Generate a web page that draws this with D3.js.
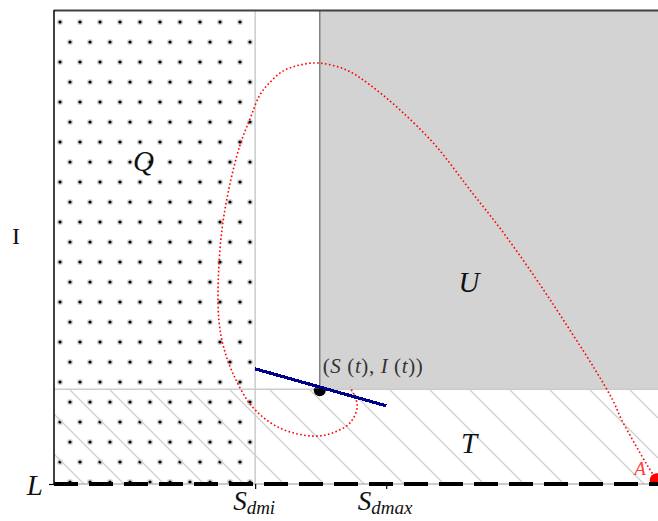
<!DOCTYPE html>
<html>
<head>
<meta charset="utf-8">
<script src="https://cdn.jsdelivr.net/npm/d3@7"></script>
<style>
  html, body { margin: 0; padding: 0; background: #fff; overflow: hidden; }
  svg { display: block; }
  .math { font-family: "Liberation Serif", "DejaVu Serif", serif; font-style: italic; }
</style>
</head>
<body>
<svg id="chart" width="658" height="521"></svg>
<script>
// Region boundaries (S on the horizontal axis, I on the vertical axis)
const sDmi = 0.333;
const sDmax = 0.55;
const iLower = 0.2;          // boundary between T (below) and Q/U (above)
const sRegionU = 0.44;       // left edge of region U

// Tick labels on the S axis
const xTickValues = [sDmi, sDmax];
const xTickSubs = ["dmi", "dmax"];
const yTickValues = [0];
const yTickLabels = ["L"];

// Current state (S(t), I(t)) and tangent direction through it
const pointS = [0.44];
const pointI = [0.2];
const tangentS = [0.333, 0.55];
const tangentI = [0.243, 0.165];

// Starting point A
const startS = [0.998];
const startI = [0.008];

// Trajectory from A spiralling around to the current state
const trajS = [0.998, 0.983, 0.962, 0.940, 0.925, 0.896, 0.854, 0.805, 0.747, 0.689,
               0.631, 0.573, 0.523, 0.485, 0.440, 0.407, 0.379, 0.358, 0.341, 0.325,
               0.308, 0.291, 0.278, 0.272, 0.273, 0.280, 0.296, 0.329, 0.374, 0.429,
               0.462, 0.490, 0.502, 0.497, 0.490];
const trajI = [0.008, 0.038, 0.084, 0.135, 0.177, 0.241, 0.325, 0.420, 0.525, 0.620,
               0.715, 0.789, 0.842, 0.873, 0.888, 0.884, 0.871, 0.848, 0.821, 0.772,
               0.715, 0.631, 0.536, 0.430, 0.346, 0.293, 0.234, 0.162, 0.118, 0.101,
               0.108, 0.129, 0.162, 0.188, 0.205];

const svg = d3.select("#chart");
const mLeft = 54, mTop = 10, mBottom = 484, mRight = 658;

const x = d3.scaleLinear().domain([0, 1]).range([mLeft, mRight]);
const y = d3.scaleLinear().domain([0, 1]).range([mBottom, mTop]);

const defs = svg.append("defs");
defs.append("clipPath").attr("id", "plotClip")
  .append("rect").attr("x", mLeft).attr("y", mTop)
  .attr("width", mRight - mLeft + 20).attr("height", mBottom - mTop);

// Dot pattern for region Q
const dots = defs.append("pattern").attr("id", "dots")
  .attr("patternUnits", "userSpaceOnUse")
  .attr("x", 55).attr("y", 12).attr("width", 20).attr("height", 40);
[[5, 10], [15, 30]].forEach(([cx, cy]) => {
  dots.append("circle").attr("cx", cx).attr("cy", cy).attr("r", 3.1).attr("fill", "#d6d6d6");
  dots.append("circle").attr("cx", cx).attr("cy", cy).attr("r", 1.6).attr("fill", "#000");
});

// Diagonal hatch for region T
const hatch = defs.append("pattern").attr("id", "hatch")
  .attr("patternUnits", "userSpaceOnUse")
  .attr("x", 0).attr("y", 0).attr("width", 40).attr("height", 40);
hatch.append("path")
  .attr("d", "M-10,-10L50,50M-10,30L10,50M30,-10L50,10")
  .attr("stroke", "#cfcfcf").attr("stroke-width", 1.3).attr("fill", "none");

const plot = svg.append("g").attr("clip-path", "url(#plotClip)");

// Region Q (dots)
plot.append("rect")
  .attr("x", x(0)).attr("y", y(1))
  .attr("width", x(sDmi) - x(0)).attr("height", y(0) - y(1))
  .attr("fill", "url(#dots)");

// Region T (hatch)
plot.append("rect")
  .attr("x", x(0)).attr("y", y(iLower))
  .attr("width", x(1.05) - x(0)).attr("height", y(0) - y(iLower))
  .attr("fill", "url(#hatch)");

// Region U (grey block)
plot.append("rect")
  .attr("x", x(sRegionU)).attr("y", y(1))
  .attr("width", x(1.05) - x(sRegionU)).attr("height", y(iLower) - y(1))
  .attr("fill", "#d3d3d3");
plot.append("line")
  .attr("x1", x(sRegionU)).attr("x2", x(sRegionU))
  .attr("y1", y(1)).attr("y2", y(iLower))
  .attr("stroke", "#808080").attr("stroke-width", 1.5);

// Boundary lines
plot.append("line")
  .attr("x1", x(sDmi)).attr("x2", x(sDmi)).attr("y1", y(1)).attr("y2", y(0))
  .attr("stroke", "#cccccc").attr("stroke-width", 1.5);
plot.append("line")
  .attr("x1", x(0)).attr("x2", x(1.05)).attr("y1", y(iLower)).attr("y2", y(iLower))
  .attr("stroke", "#cccccc").attr("stroke-width", 1.5);

// Trajectory
const traj = trajS.map((s, i) => [s, trajI[i]]);
plot.append("path")
  .datum(traj)
  .attr("d", d3.line().x(d => x(d[0])).y(d => y(d[1])).curve(d3.curveCatmullRom))
  .attr("fill", "none").attr("stroke", "#ff0000")
  .attr("stroke-width", 1.6).attr("stroke-dasharray", "1.6,2.4");

// Current state marker (lower half shown)
defs.append("clipPath").attr("id", "belowClip")
  .append("rect").attr("x", 0).attr("y", y(iLower) - 1).attr("width", 658).attr("height", 200);
plot.append("g").attr("clip-path", "url(#belowClip)")
  .selectAll("circle").data(pointS).join("circle")
  .attr("cx", d => x(d)).attr("cy", (d, i) => y(pointI[i]) + 1)
  .attr("r", 6).attr("fill", "#000");

// Tangent line through the current state
const tangent = tangentS.map((s, i) => [s, tangentI[i]]);
plot.append("path")
  .datum(tangent)
  .attr("d", d3.line().x(d => x(d[0])).y(d => y(d[1])))
  .attr("fill", "none").attr("stroke", "#00008b").attr("stroke-width", 3.2)
  .attr("shape-rendering", "crispEdges");

// Start point A
plot.selectAll("circle.start").data(startS).join("circle").attr("class", "start")
  .attr("cx", d => x(d)).attr("cy", (d, i) => y(startI[i]))
  .attr("r", 7).attr("fill", "#ff0000");

// Spines
svg.append("line").attr("x1", mLeft).attr("x2", mRight).attr("y1", mTop + 0.5).attr("y2", mTop + 0.5)
  .attr("stroke", "#404040").attr("stroke-width", 2);
svg.append("line").attr("x1", mLeft).attr("x2", mLeft).attr("y1", mTop).attr("y2", mBottom)
  .attr("stroke", "#111").attr("stroke-width", 1.6);
svg.append("line").attr("x1", mLeft).attr("x2", mRight).attr("y1", mBottom).attr("y2", mBottom)
  .attr("stroke", "#9a9a9a").attr("stroke-width", 1.2);

// Line L (dashed, heavy)
svg.append("line").attr("x1", x(0)).attr("x2", mRight).attr("y1", y(0)).attr("y2", y(0))
  .attr("stroke", "#000").attr("stroke-width", 4).attr("stroke-dasharray", "24,11");

// Axes
const xAxis = svg.append("g").attr("transform", `translate(0,${mBottom})`)
  .call(d3.axisBottom(x).tickValues(xTickValues).tickSize(5).tickFormat(""));
xAxis.select(".domain").remove();
xAxis.selectAll(".tick line").attr("stroke", "#000").attr("stroke-width", 1.2);

const xl = svg.append("g").selectAll("text").data(xTickValues).join("text")
  .attr("class", "math").attr("text-anchor", "middle")
  .attr("x", d => x(d) - 1).attr("y", 510).attr("fill", "#111");
xl.append("tspan").attr("font-size", 27).text("S");
xl.append("tspan").attr("font-size", 19).attr("dy", 4).text((d, i) => xTickSubs[i]);

const yAxis = svg.append("g").attr("transform", `translate(${mLeft},0)`)
  .call(d3.axisLeft(y).tickValues(yTickValues).tickSize(5).tickFormat(""));
yAxis.select(".domain").remove();
yAxis.selectAll(".tick line").attr("stroke", "#000").attr("stroke-width", 1.2);
svg.selectAll("text.ylab").data(yTickValues).join("text").attr("class", "ylab math")
  .attr("x", 43).attr("y", d => y(d) + 11).attr("text-anchor", "end")
  .attr("font-size", 29).attr("fill", "#111").text((d, i) => yTickLabels[i]);

// Axis title
svg.append("text").attr("x", 16).attr("y", 244).attr("text-anchor", "middle")
  .attr("font-family", "Liberation Serif, DejaVu Serif, serif").attr("font-size", 24)
  .attr("fill", "#111").text("I");

// Region labels
const labels = [["Q", 0.148, 0.66], ["U", 0.687, 0.405], ["T", 0.687, 0.065]];
svg.append("g").selectAll("text").data(labels).join("text")
  .attr("class", "math").attr("text-anchor", "middle")
  .attr("x", d => x(d[1])).attr("y", d => y(d[2])).attr("font-size", 29).attr("fill", "#111")
  .text(d => d[0]);

// State label
const st = svg.append("text").attr("x", x(pointS[0]) + 3).attr("y", y(pointI[0]) - 16)
  .attr("font-family", "Liberation Serif, DejaVu Serif, serif").attr("font-size", 21)
  .attr("letter-spacing", 0.6).attr("fill", "#333");
st.append("tspan").text("(");
st.append("tspan").attr("font-style", "italic").text("S");
st.append("tspan").text(" (");
st.append("tspan").attr("font-style", "italic").text("t");
st.append("tspan").text("), ");
st.append("tspan").attr("font-style", "italic").text("I");
st.append("tspan").text(" (");
st.append("tspan").attr("font-style", "italic").text("t");
st.append("tspan").text("))");

// Label A
svg.append("text").attr("class", "math")
  .attr("x", x(startS[0]) - 11).attr("y", y(startI[0]) - 5).attr("text-anchor", "end")
  .attr("font-size", 19).attr("fill", "#ff4040").text("A");
</script>
</body>
</html>
